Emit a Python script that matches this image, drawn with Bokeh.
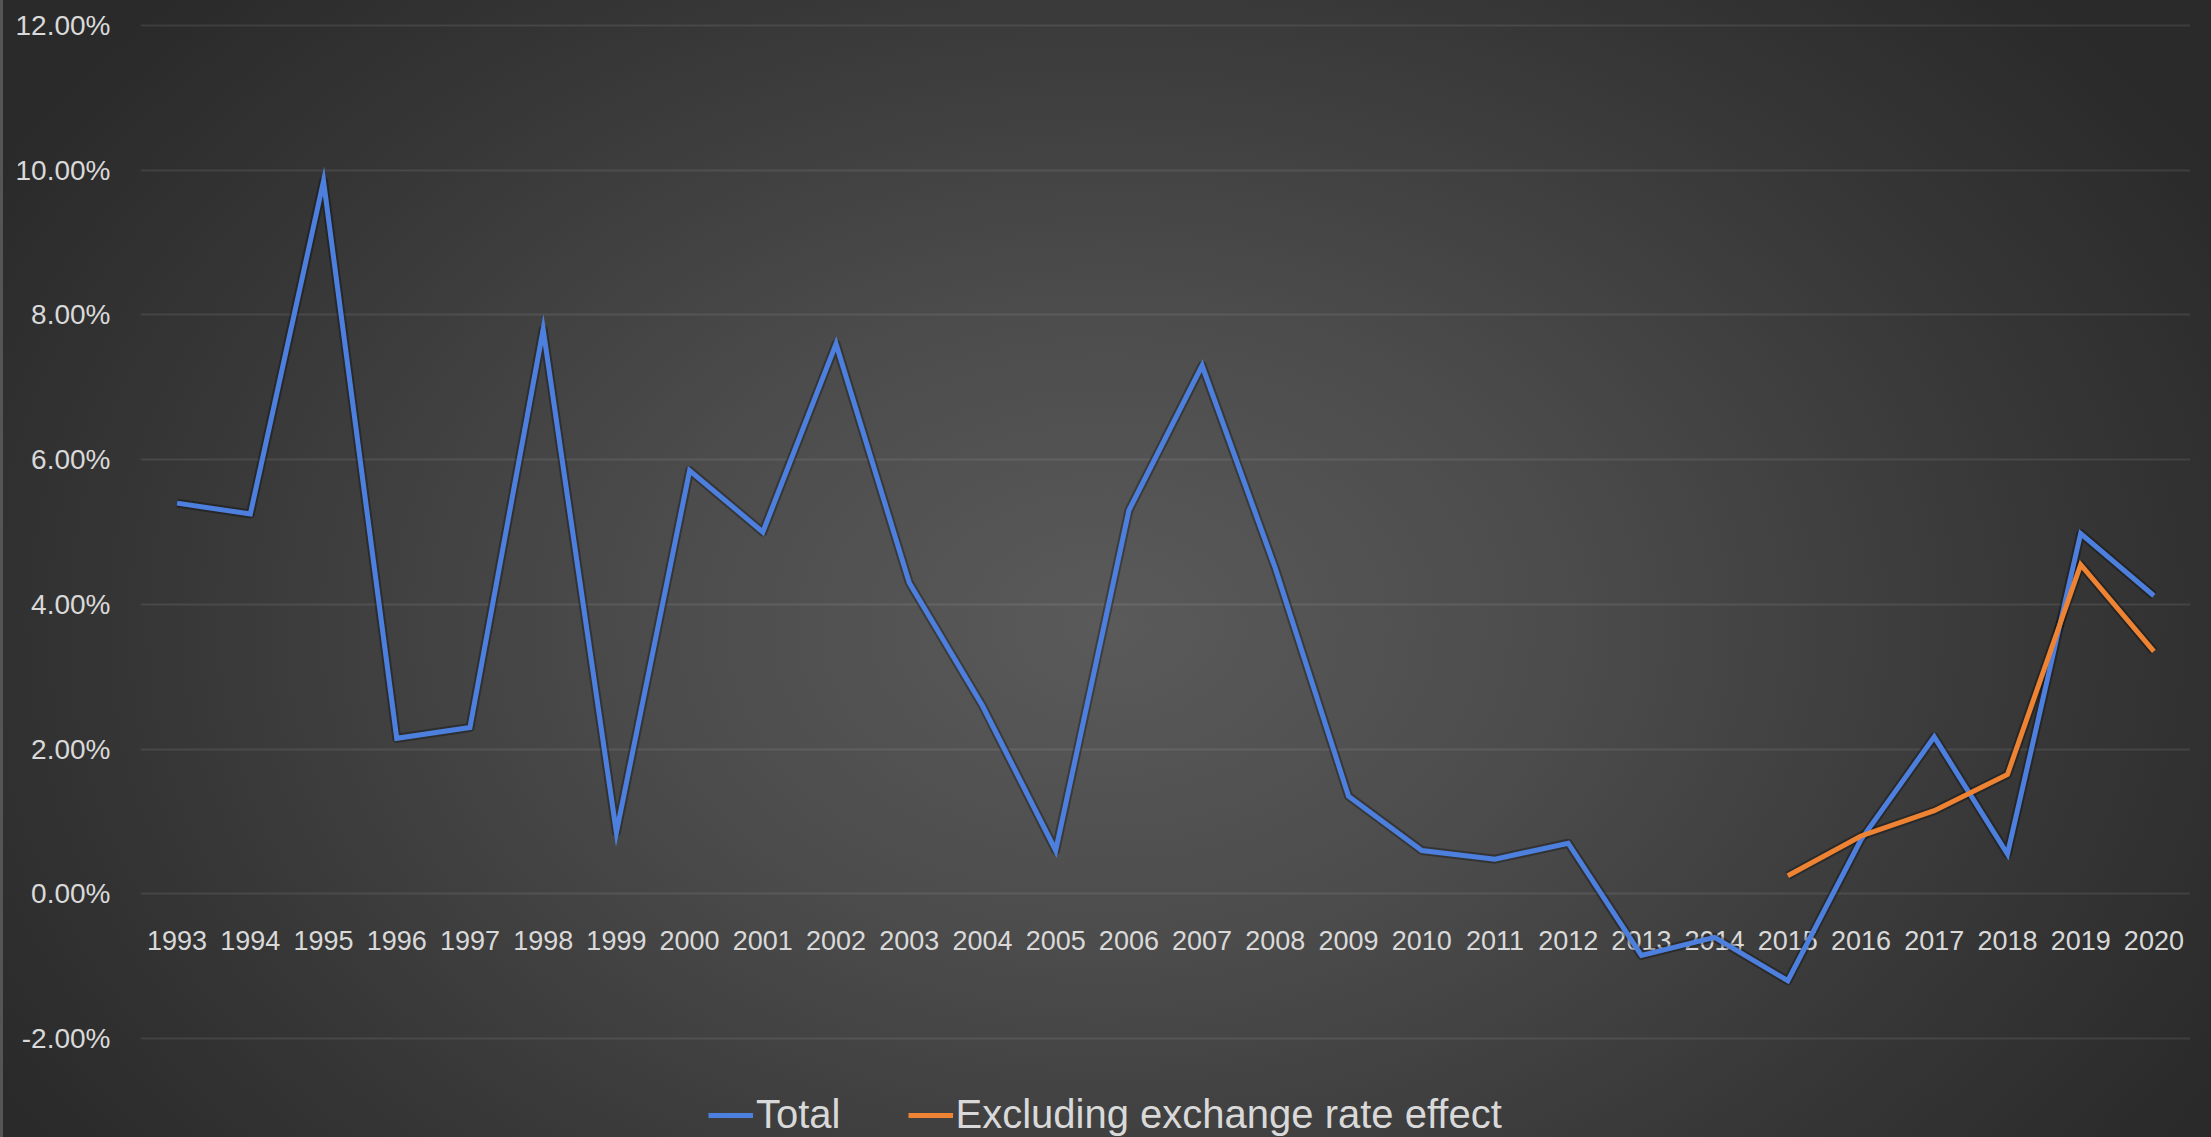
from bokeh.plotting import figure
from bokeh.models import FactorRange, Range1d, FixedTicker, PrintfTickFormatter, Legend, LegendItem
from bokeh.core.properties import value
from bokeh.embed import file_html
from bokeh.resources import INLINE

# ---- data ----
years = ["1993", "1994", "1995", "1996", "1997", "1998", "1999", "2000", "2001", "2002",
         "2003", "2004", "2005", "2006", "2007", "2008", "2009", "2010", "2011", "2012",
         "2013", "2014", "2015", "2016", "2017", "2018", "2019", "2020"]
total = [5.40, 5.25, 9.85, 2.15, 2.30, 7.80, 0.85, 5.85, 5.00, 7.60,
         4.30, 2.60, 0.60, 5.30, 7.30, 4.50, 1.35, 0.60, 0.48, 0.70,
         -0.85, -0.60, -1.20, 0.75, 2.17, 0.55, 4.98, 4.12]
excl_years = ["2015", "2016", "2017", "2018", "2019", "2020"]
excl = [0.25, 0.80, 1.15, 1.65, 4.55, 3.35]
y_ticks = [-2, 0, 2, 4, 6, 8, 10, 12]
series_names = ["Total", "Excluding exchange rate effect"]

FONT = "Liberation Sans"
TXT = "#d9d9d9"
BLUE = "#4d80de"
ORANGE = "#ee8333"

p = figure(width=2211, height=1137,
           x_range=FactorRange(*years, range_padding=0),
           y_range=Range1d(-3.366, 12.207),
           x_axis_location=None, toolbar_location=None, output_backend="svg",
           min_border_left=140, min_border_right=21, min_border_top=10, min_border_bottom=0,
           border_fill_alpha=0, background_fill_alpha=0, outline_line_color=None,
           styles={"background": "radial-gradient(ellipse 58% 80% at 50% 55%, #5a5a5a 0%, #4c4c4c 35%, #363636 75%, #2a2a2a 100%)",
                   "box-shadow": "inset 3px 0 0 #555555"})

# grid
p.xgrid.grid_line_color = None
p.ygrid.ticker = FixedTicker(ticks=y_ticks)
p.ygrid.grid_line_color = "#ffffff"
p.ygrid.grid_line_alpha = 0.09
p.ygrid.grid_line_width = 2

# y axis
ax = p.yaxis[0]
ax.ticker = FixedTicker(ticks=y_ticks)
ax.formatter = PrintfTickFormatter(format="%.2f%%")
ax.axis_line_color = None
ax.major_tick_line_color = None
ax.minor_tick_line_color = None
ax.major_tick_out = 0
ax.major_tick_in = 0
ax.major_label_standoff = 30
ax.major_label_text_font = FONT
ax.major_label_text_font_size = "28px"
ax.major_label_text_color = TXT

# category labels sitting under the zero line
p.text(x=years, y=[0] * len(years), text=years, text_align="center", text_baseline="middle",
       y_offset=47, text_font=value(FONT), text_font_size="27px", text_color=TXT)

# soft shadows under the lines
p.line(years, total, line_color="#000000", line_alpha=0.3, line_width=9, line_join="round")
p.line(excl_years, excl, line_color="#000000", line_alpha=0.3, line_width=9, line_join="round")

r_total = p.line(years, total, line_color=BLUE, line_width=5, line_join="miter")
r_excl = p.line(excl_years, excl, line_color=ORANGE, line_width=5, line_join="miter")

legend = Legend(items=[LegendItem(label=series_names[0], renderers=[r_total]),
                       LegendItem(label=series_names[1], renderers=[r_excl])],
                orientation="horizontal", location=(568, 0),
                label_text_font=FONT, label_text_font_size="40px", label_text_color=TXT,
                glyph_width=45, glyph_height=40, label_standoff=3, spacing=67,
                padding=0, margin=0, border_line_color=None, background_fill_alpha=0)
p.add_layout(legend)

open("out.html", "w").write(file_html(p, INLINE))
